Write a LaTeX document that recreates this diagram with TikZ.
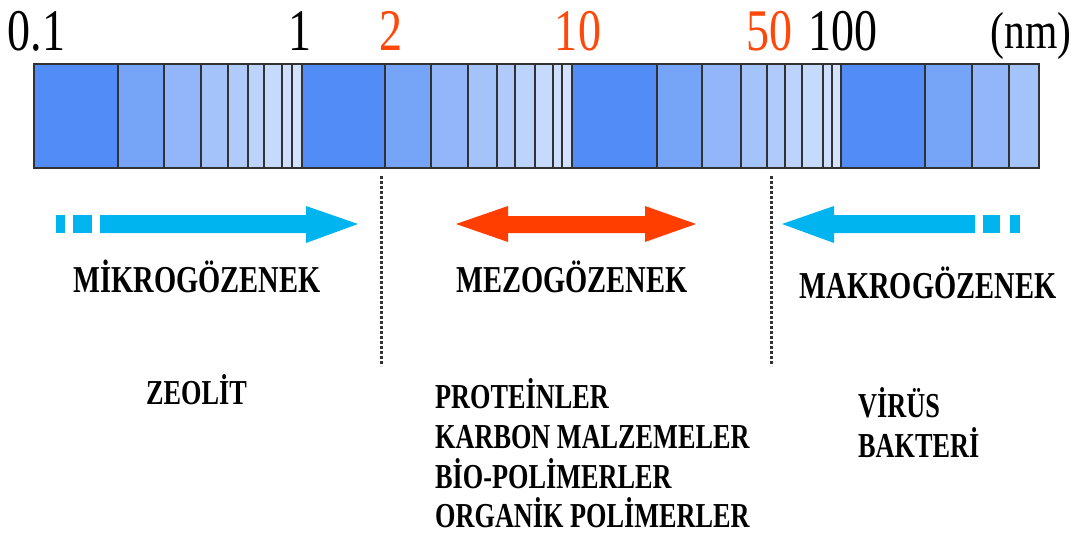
\documentclass[tikz,border=0pt]{standalone}
\usepackage{fontspec}
\setmainfont{Liberation Serif}[BoldFont={Liberation Serif Bold}]
\usepackage{graphicx}

% cell shades inside one decade of the scale, darkest first
\definecolor{cA}{RGB}{82,140,246}
\definecolor{cB}{RGB}{118,165,248}
\definecolor{cC}{RGB}{146,182,249}
\definecolor{cD}{RGB}{164,195,250}
\definecolor{cE}{RGB}{176,203,251}
\definecolor{cF}{RGB}{188,211,252}
\definecolor{cG}{RGB}{198,218,253}
\definecolor{cH}{RGB}{205,222,254}
\definecolor{cI}{RGB}{211,226,255}
\definecolor{framegray}{RGB}{50,50,50}
\definecolor{skyarrow}{RGB}{0,180,240}
\definecolor{redarrow}{RGB}{255,62,0}
\definecolor{ticko}{RGB}{255,72,10}

% horizontally condensed text
\newcommand{\cond}[2][0.75]{\scalebox{#1}[1]{#2}}

\begin{document}
\begin{tikzpicture}[x=1pt,y=-1pt,
  ticklabel/.style={inner sep=0pt,anchor=base,font=\fontsize{59}{59}\selectfont},
  rangelabel/.style={inner sep=0pt,anchor=base,font=\fontsize{38}{38}\selectfont\bfseries},
  itemlabel/.style={inner sep=0pt,anchor=base west,font=\fontsize{35}{35}\selectfont\bfseries},
  framestyle/.style={draw=framegray,line width=2.2pt},
  sepline/.style={draw=black!80,line width=3pt,dash pattern=on 3pt off 2pt}]
\useasboundingbox (0,0) rectangle (1083,540);

% log-scale bar: four decades of cells
\foreach \a/\b/\c in {
  34/118/cA,118/164/cB,164/201/cC,201/228/cD,228/248/cE,248/264/cF,264/282/cG,282/292/cH,292/302/cI,
  302/385/cA,385/431/cB,431/468/cC,468/497/cD,497/515/cE,515/535/cF,535/553/cG,553/562/cH,562/572/cI,
  572/657/cA,657/702/cB,702/741/cC,741/767/cD,767/785/cE,785/802/cF,802/823/cG,823/832/cH,832/841/cI,
  841/925/cA,925/972/cB,972/1009/cC,1009/1039/cD}
  \fill[\c] (\a,64) rectangle (\b,168);
\foreach \x in {118,164,201,228,248,264,282,292,302,
  385,431,468,497,515,535,553,562,572,
  657,702,741,767,785,802,823,832,841,
  925,972,1009}
  \draw[framestyle] (\x,64) -- (\x,168);
\draw[framestyle] (34,64) rectangle (1039,168);

% scale numbers
\node[ticklabel] (t01) at (36.5,51) {\cond[0.78]{0.1}};
\node[ticklabel] (t1) at (300,51) {\cond[0.78]{1}};
\node[ticklabel,text=ticko] (t2) at (391,51) {\cond[0.78]{2}};
\node[ticklabel,text=ticko] (t10) at (578,51) {\cond[0.78]{10}};
\node[ticklabel,text=ticko] (t50) at (769,51) {\cond[0.78]{50}};
\node[ticklabel] (t100) at (843,51) {\cond[0.78]{100}};
\node[ticklabel,font=\fontsize{52}{52}\selectfont] (tnm) at (1031,49) {\cond[0.8]{(nm)}};

% boundaries at 2 nm and 50 nm
\coordinate (d2top) at (381,176);
\coordinate (d2bot) at (381,366);
\coordinate (d50top) at (771,176);
\coordinate (d50bot) at (771,366);
\draw[sepline] (d2top) -- (d2bot);
\draw[sepline] (d50top) -- (d50bot);

% micropore arrow (open-ended to the left)
\fill[skyarrow] (56,215) rectangle (65,233);
\fill[skyarrow] (73,215) rectangle (92,233);
\fill[skyarrow] (100,215) -- (306,215) -- (306,206) -- (358,224) -- (306,243) -- (306,233) -- (100,233) -- cycle;

% mesopore double arrow
\fill[redarrow] (456,224) -- (508,206) -- (508,216) -- (645,216) -- (645,206) -- (696,224)
  -- (645,242) -- (645,233) -- (508,233) -- (508,242) -- cycle;

% macropore arrow (open-ended to the right)
\fill[skyarrow] (782,224) -- (834,206) -- (834,215) -- (975,215) -- (975,233) -- (834,233) -- (834,243) -- cycle;
\fill[skyarrow] (983,215) rectangle (1000,233);
\fill[skyarrow] (1010,215) rectangle (1020,233);

% range names
\node[rangelabel] (mikro) at (197,292) {\cond{MİKROGÖZENEK}};
\node[rangelabel] (mezo) at (572,292) {\cond{MEZOGÖZENEK}};
\node[rangelabel] (makro) at (928,298) {\cond{MAKROGÖZENEK}};

% examples in each range
\node[itemlabel] (zeolit) at (146,404) {\cond{ZEOLİT}};
\node[itemlabel] (prot) at (435,408) {\cond{PROTEİNLER}};
\node[itemlabel] (karbon) at (435,448) {\cond{KARBON MALZEMELER}};
\node[itemlabel] (biopol) at (435,488) {\cond{BİO-POLİMERLER}};
\node[itemlabel] (orgpol) at (435,527) {\cond{ORGANİK POLİMERLER}};
\node[itemlabel] (virus) at (858,417) {\cond{VİRÜS}};
\node[itemlabel] (bakteri) at (858,457) {\cond{BAKTERİ}};
\end{tikzpicture}
\end{document}
